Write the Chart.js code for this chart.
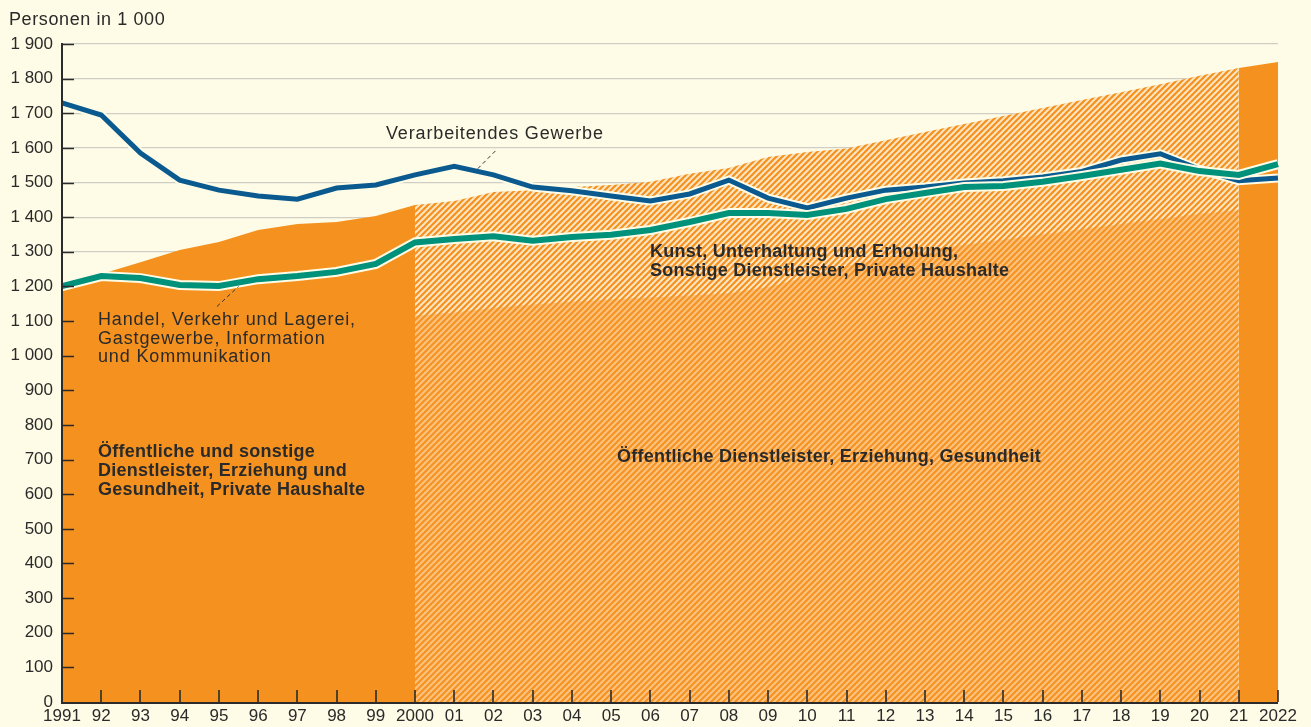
<!DOCTYPE html>
<html><head><meta charset="utf-8">
<script src="https://cdn.jsdelivr.net/npm/chart.js@4.4.0/dist/chart.umd.min.js"></script>
<style>html,body{margin:0;padding:0;background:#FEFCE6;} canvas{display:block}</style>
</head><body>
<canvas id="c" width="1311" height="727"></canvas>
<script>
// ---- data ----
const years = ['1991','92','93','94','95','96','97','98','99','2000','01','02','03','04','05','06','07','08','09','10','11','12','13','14','15','16','17','18','19','20','21','2022'];
// top of the orange area (all public & other services)
const totalServices = [1190,1236,1270,1305,1328,1363,1380,1386,1403,1435,1447,1473,1478,1487,1493,1502,1525,1542,1574,1588,1598,1622,1646,1669,1692,1715,1738,1761,1784,1808,1831,1848];
// lower hatched part 2000-2021
const publicAdmin = [null,null,null,null,null,null,null,null,null,1115,1125,1138,1148,1156,1162,1168,1174,1180,1198,1228,1258,1284,1304,1320,1335,1350,1365,1380,1395,1410,1420,null];
const manufacturing = [1730,1695,1585,1507,1478,1461,1452,1484,1493,1522,1547,1522,1487,1476,1461,1447,1467,1507,1455,1427,1455,1478,1487,1499,1505,1516,1532,1565,1583,1538,1505,1513];
const tradeTransport = [1201,1230,1224,1204,1201,1221,1230,1242,1265,1327,1337,1345,1332,1343,1349,1363,1386,1412,1412,1406,1424,1452,1470,1487,1490,1502,1519,1537,1555,1533,1522,1553];
const yTickLabels = ['0','100','200','300','400','500','600','700','800','900','1 000','1 100','1 200','1 300','1 400','1 500','1 600','1 700','1 800','1 900'];

// ---- styles ----
const BG = '#FEFCE6', ORANGE = '#F5921F', BLUE = '#0A5A8F', TEAL = '#00917A', INK = '#2a2a2a';
const FONT = '"Liberation Sans", Arial, sans-serif';
function stripes(base, stripe, size, lw) {
  const c = document.createElement('canvas'); c.width = size; c.height = size;
  const x = c.getContext('2d');
  x.fillStyle = base; x.fillRect(0,0,size,size);
  x.strokeStyle = stripe; x.lineWidth = lw;
  x.beginPath();
  x.moveTo(-size, 2*size); x.lineTo(2*size, -size);
  x.moveTo(-size, size); x.lineTo(size, -size);
  x.moveTo(0, 2*size); x.lineTo(2*size, 0);
  x.stroke();
  return x.createPattern(c, 'repeat');
}
const hatchUpper = stripes(ORANGE, '#FDE6C4', 6, 2);
const hatchLower = stripes(ORANGE, '#FCC27E', 6, 2.2);
const hatched = (i) => i >= 9 && i < 30;

const overlay = {
  id: 'overlay',
  afterDatasetsDraw(chart) {
    const {ctx, chartArea: a, scales: {x, y}} = chart;
    ctx.save();
    // axes
    ctx.strokeStyle = '#2b2b2b'; ctx.lineWidth = 2;
    ctx.beginPath();
    ctx.moveTo(a.left, a.top - 1); ctx.lineTo(a.left, a.bottom + 1); ctx.lineTo(a.right, a.bottom + 1);
    ctx.stroke();
    ctx.lineWidth = 1.6;
    ctx.beginPath();
    for (let v = 100; v <= 1900; v += 100) { const py = Math.round(y.getPixelForValue(v)) + 0.5; ctx.moveTo(a.left, py); ctx.lineTo(a.left + 12, py); }
    for (let i = 1; i < years.length; i++) { const px = Math.round(x.getPixelForValue(i)); ctx.moveTo(px, a.bottom); ctx.lineTo(px, a.bottom - 12); }
    ctx.stroke();
    // leader lines
    ctx.setLineDash([4,3]); ctx.lineWidth = 1; ctx.strokeStyle = '#333';
    ctx.beginPath();
    ctx.moveTo(x.getPixelForValue(10.6), y.getPixelForValue(1540)); ctx.lineTo(x.getPixelForValue(11.1), y.getPixelForValue(1597));
    ctx.moveTo(x.getPixelForValue(3.95), y.getPixelForValue(1142)); ctx.lineTo(x.getPixelForValue(4.5), y.getPixelForValue(1200));
    ctx.stroke();
    ctx.setLineDash([]);
    // texts
    ctx.fillStyle = INK; ctx.textBaseline = 'alphabetic'; ctx.textAlign = 'left';
    ctx.font = '18px ' + FONT;
    ctx.letterSpacing = '0.6px';
    ctx.fillText('Personen in 1 000', 9, 25);
    ctx.letterSpacing = '0.85px';
    ctx.fillText('Verarbeitendes Gewerbe', 386, 139);
    ctx.fillText('Handel, Verkehr und Lagerei,', 98, 325);
    ctx.fillText('Gastgewerbe, Information', 98, 344);
    ctx.fillText('und Kommunikation', 98, 362);
    ctx.letterSpacing = '0.25px';
    ctx.font = 'bold 18px ' + FONT;
    ctx.fillText('Kunst, Unterhaltung und Erholung,', 650, 257);
    ctx.fillText('Sonstige Dienstleister, Private Haushalte', 650, 276);
    ctx.fillText('Öffentliche und sonstige', 98, 457);
    ctx.fillText('Dienstleister, Erziehung und', 98, 476);
    ctx.fillText('Gesundheit, Private Haushalte', 98, 495);
    ctx.fillText('Öffentliche Dienstleister, Erziehung, Gesundheit', 617, 462);
    ctx.restore();
  }
};

new Chart(document.getElementById('c'), {
  type: 'line',
  data: {
    labels: years,
    datasets: [
      { data: tradeTransport, borderColor: TEAL, borderWidth: 6, order: 0 },
      { data: tradeTransport, borderColor: BG, borderWidth: 10, order: 1 },
      { data: manufacturing, borderColor: BLUE, borderWidth: 5, order: 2 },
      { data: manufacturing, borderColor: BG, borderWidth: 9, order: 3 },
      { data: publicAdmin, borderWidth: 0, borderColor: 'rgba(0,0,0,0)', backgroundColor: hatchLower, fill: 'origin', order: 4 },
      { data: totalServices, borderWidth: 0, borderColor: 'rgba(0,0,0,0)', backgroundColor: ORANGE, fill: 'origin', order: 5,
        segment: { backgroundColor: c => hatched(c.p0DataIndex) ? hatchUpper : ORANGE } }
    ]
  },
  options: {
    responsive: false, animation: false, devicePixelRatio: 1,
    layout: { padding: { top: 44, right: 33, left: 0, bottom: 0 } },
    elements: { point: { radius: 0, hoverRadius: 0 }, line: { tension: 0, fill: false } },
    plugins: { legend: { display: false }, tooltip: { enabled: false } },
    scales: {
      x: {
        offset: false,
        grid: { display: false, drawTicks: false },
        border: { display: false },
        ticks: { autoSkip: false, maxRotation: 0, padding: 4, color: INK, font: { family: FONT, size: 17 } },
        afterFit: s => { s.height = 25; }
      },
      y: {
        min: 0, max: 1900,
        grid: { color: '#cfcdc6', lineWidth: 1.2, drawTicks: false },
        border: { display: false },
        ticks: { stepSize: 100, padding: 9, color: INK, font: { family: FONT, size: 17 },
          callback: (v, i) => yTickLabels[i] },
        afterFit: s => { s.width = 62; }
      }
    }
  },
  plugins: [overlay]
});
</script>
</body></html>
